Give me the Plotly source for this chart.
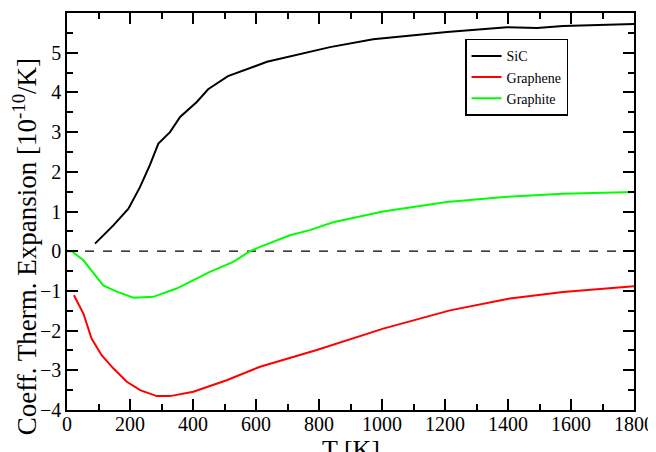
import plotly.graph_objects as go

sic_T = [89, 147, 195, 232, 263, 290, 327, 359, 412, 448, 511, 635, 835, 930, 972, 1206, 1397, 1492, 1575, 1800]
sic_a = [0.19, 0.65, 1.07, 1.62, 2.17, 2.71, 3.0, 3.38, 3.76, 4.08, 4.41, 4.77, 5.14, 5.28, 5.34, 5.52, 5.64, 5.62, 5.67, 5.72]

gra_T = [22, 52, 78, 110, 147, 190, 232, 285, 327, 401, 507, 581, 613, 793, 1004, 1216, 1406, 1575, 1800]
gra_a = [-1.11, -1.57, -2.2, -2.62, -2.95, -3.29, -3.5, -3.65, -3.65, -3.54, -3.25, -3.01, -2.91, -2.49, -1.95, -1.49, -1.19, -1.03, -0.88]

grt_T = [0, 15, 52, 84, 115, 158, 211, 274, 348, 454, 528, 581, 613, 708, 771, 845, 930, 1003, 1206, 1397, 1575, 1800]
grt_a = [0.0, 0.0, -0.23, -0.56, -0.86, -1.02, -1.17, -1.15, -0.94, -0.52, -0.27, 0.0, 0.11, 0.4, 0.53, 0.73, 0.88, 1.0, 1.24, 1.37, 1.45, 1.49]

zero_T = [0, 1800]
zero_a = [0, 0]

x_title = "T [K]"
y_title = "Coeff. Therm. Expansion [10<sup>-10</sup>/K]"

SERIF = "Liberation Serif"

fig = go.Figure()
fig.add_trace(go.Scatter(x=zero_T, y=zero_a, mode="lines", showlegend=False,
                         line=dict(color="black", width=1.2, dash="dash"), hoverinfo="skip"))
fig.add_trace(go.Scatter(x=sic_T, y=sic_a, mode="lines", name="SiC",
                         line=dict(color="black", width=2)))
fig.add_trace(go.Scatter(x=gra_T, y=gra_a, mode="lines", name="Graphene",
                         line=dict(color="#ff0000", width=2)))
fig.add_trace(go.Scatter(x=grt_T, y=grt_a, mode="lines", name="Graphite",
                         line=dict(color="#00ff00", width=2)))

axis_common = dict(
    showgrid=False, zeroline=False, showline=True, linecolor="black", linewidth=1.5,
    mirror="allticks", ticks="inside", ticklen=11, tickwidth=1.5, tickcolor="black",
    tickfont=dict(family=SERIF, size=20, color="black"), automargin=False,
)

fig.update_xaxes(range=[0, 1800], dtick=200, tick0=0,
                 minor=dict(dtick=100, ticks="inside", ticklen=6, tickwidth=1.5, tickcolor="black"),
                 ticklabelstandoff=-5,
                 **axis_common)
fig.update_yaxes(range=[-4, 6], dtick=1, tick0=0,
                 minor=dict(dtick=0.5, ticks="inside", ticklen=6, tickwidth=1.5, tickcolor="black"),
                 ticklabelstandoff=0,
                 **axis_common)

fig.add_annotation(text=x_title, xref="paper", yref="paper", x=0.5, y=-0.058,
                   xanchor="center", yanchor="top", showarrow=False,
                   font=dict(family=SERIF, size=26, color="black"))
fig.add_annotation(text=y_title, xref="paper", yref="paper", x=-0.074, y=0.41,
                   xanchor="center", yanchor="middle", showarrow=False, textangle=-90,
                   font=dict(family=SERIF, size=27, color="black"))

fig.update_layout(
    width=648, height=444,
    margin=dict(l=59, r=22, t=5, b=42),
    plot_bgcolor="white", paper_bgcolor="white",
    font=dict(family=SERIF, color="black"),
    legend=dict(x=0.702, y=0.935, xanchor="left", yanchor="top",
                bgcolor="white", bordercolor="black", borderwidth=1.5,
                font=dict(family=SERIF, size=14, color="black"),
                tracegroupgap=0, itemwidth=30),
    showlegend=True,
)

fig.write_html("out.html")
